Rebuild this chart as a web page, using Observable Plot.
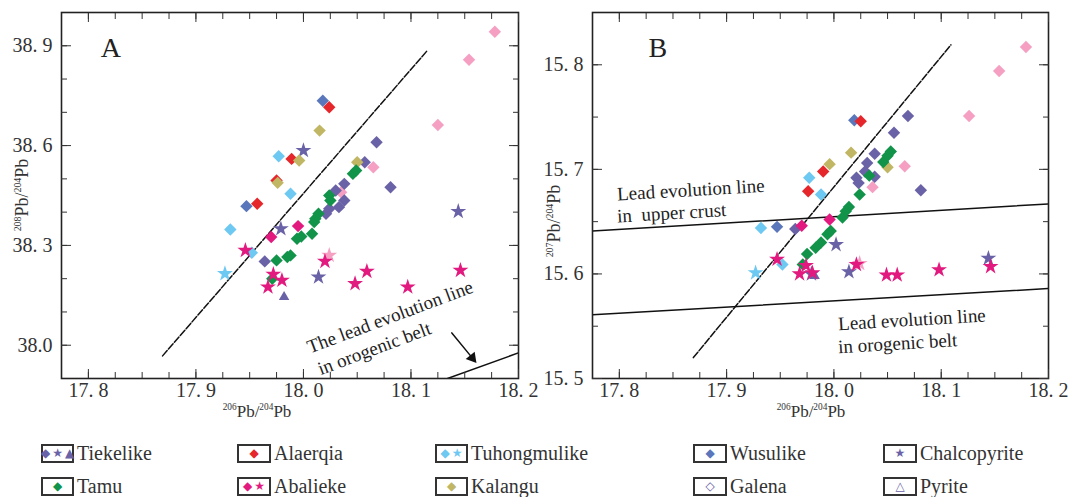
<!DOCTYPE html>
<html><head><meta charset="utf-8">
<script src="https://cdn.jsdelivr.net/npm/d3@7"></script>
<script src="https://cdn.jsdelivr.net/npm/@observablehq/plot@0.6"></script>
<style>
body{margin:0;background:#fff;font-family:"Liberation Serif",serif;}
#wrap{width:1073px;height:497px;position:relative;overflow:hidden;background:#fff}
#charts{display:flex;height:420px}
#legend{position:relative;height:77px;}
.item{position:absolute;display:flex;align-items:center;font-size:20px;line-height:20px;height:20px;color:#333;white-space:nowrap}
.box{border:2px solid #333;height:15px;display:flex;align-items:center;justify-content:center;margin-right:3px;font-family:"DejaVu Sans";font-size:12px;line-height:1}
.title{position:absolute;color:#333;white-space:nowrap;line-height:1;transform:translate(-50%,-50%)}
.title sup{font-size:0.55em;vertical-align:0;position:relative;top:-0.75em;line-height:0}
.title.y{font-size:18px;transform:translate(-50%,-50%) rotate(-90deg)}
.title.x{font-size:17px}
</style></head>
<body><div id="wrap"><div id="charts"></div><div id="legend"></div>
<div class="title y" style="left:22px;top:195px"><sup>208</sup>Pb/<sup>204</sup>Pb</div>
<div class="title y" style="left:554px;top:221px"><sup>207</sup>Pb/<sup>204</sup>Pb</div>
<div class="title x" style="left:257px;top:411px"><sup>206</sup>Pb/<sup>204</sup>Pb</div>
<div class="title x" style="left:811px;top:411px"><sup>206</sup>Pb/<sup>204</sup>Pb</div>
</div>
<script>
// ---------- data ----------
// Panel A: 206Pb/204Pb vs 208Pb/204Pb
const tiekelikeDiamondsA = [[18.068,38.61],[18.081,38.475],[18.057,38.55],[18.038,38.485],[18.030,38.465],[18.038,38.435],[18.033,38.415],[18.024,38.41],[18.021,38.395],[17.964,38.252]];
const tiekelikeStarsA = [[18.000,38.585],[17.979,38.35],[18.014,38.205],[18.144,38.402]];
const tiekelikeTrianglesA = [[17.982,38.145]];
const alaerqiaA = [[18.024,38.715],[17.989,38.56],[17.957,38.425],[17.975,38.495]];
const tuhongDiamondsA = [[17.977,38.568],[17.988,38.455],[17.932,38.348],[17.952,38.278]];
const tuhongStarsA = [[17.927,38.215]];
const wusulikeA = [[18.018,38.735],[17.947,38.418]];
const tamuA = [[17.971,38.20],[17.975,38.255],[17.985,38.265],[17.988,38.27],[17.994,38.32],[17.998,38.327],[18.008,38.335],[18.010,38.37],[18.011,38.38],[18.014,38.395],[18.025,38.435],[18.024,38.45],[18.046,38.515],[18.049,38.525]];
const abaliekeDiamondsA = [[17.995,38.358],[17.970,38.325]];
const abaliekeStarsA = [[17.946,38.285],[17.972,38.213],[17.980,38.195],[17.967,38.175],[18.020,38.252],[18.059,38.222],[18.048,38.185],[18.097,38.175],[18.146,38.225]];
const kalanguA = [[18.015,38.645],[17.996,38.555],[17.976,38.488],[18.050,38.55]];
const pinkDiamondsA = [[18.178,38.942],[18.154,38.858],[18.125,38.662],[18.065,38.535],[18.035,38.46]];
const pinkStarsA = [[18.024,38.27]];
const dashedLineA = [[17.869,37.968],[18.115,38.885]];
const orogenicLineA = [[18.134,37.90],[18.20,37.977]];

// Panel B: 206Pb/204Pb vs 207Pb/204Pb
const tiekelikeDiamondsB = [[18.069,15.751],[18.056,15.735],[18.038,15.715],[18.031,15.706],[18.029,15.698],[18.021,15.692],[18.038,15.693],[18.023,15.687],[18.081,15.680],[17.964,15.643]];
const tiekelikeStarsB = [[18.002,15.628],[17.979,15.600],[18.014,15.602],[18.144,15.615]];
const tiekelikeTrianglesB = [[17.982,15.598]];
const alaerqiaB = [[18.025,15.746],[17.990,15.698],[17.976,15.679]];
const tuhongDiamondsB = [[17.977,15.692],[17.988,15.676],[17.932,15.644],[17.952,15.609]];
const tuhongStarsB = [[17.927,15.601]];
const wusulikeB = [[18.019,15.747],[17.947,15.645]];
const tamuB = [[17.971,15.609],[17.975,15.619],[17.983,15.625],[17.988,15.630],[17.994,15.638],[17.997,15.641],[18.008,15.654],[18.011,15.660],[18.014,15.664],[18.024,15.676],[18.033,15.694],[18.046,15.707],[18.050,15.713],[18.053,15.717]];
const abaliekeDiamondsB = [[17.996,15.652],[17.970,15.646]];
const abaliekeStarsB = [[17.947,15.614],[17.974,15.608],[17.968,15.600],[17.980,15.601],[18.021,15.609],[18.049,15.599],[18.059,15.599],[18.098,15.604],[18.146,15.607]];
const kalanguB = [[18.016,15.716],[17.996,15.705],[18.050,15.702]];
const pinkDiamondsB = [[18.179,15.817],[18.154,15.794],[18.126,15.751],[18.066,15.703],[18.036,15.683]];
const pinkStarsB = [[18.024,15.610]];
const dashedLineB = [[17.869,15.52],[18.109,15.819]];
const upperCrustLineB = [[17.775,15.641],[18.20,15.667]];
const orogenicLineB = [[17.775,15.561],[18.20,15.586]];

// ticks
const xMajor = [17.8, 17.9, 18.0, 18.1, 18.2];
const xMinor = d3.range(0, 17).map(i => +(17.8 + i * 0.025).toFixed(3));
const yMajorA = [38.0, 38.3, 38.6, 38.9];
const yMinorA = d3.range(0, 10).map(i => +(38.0 + i * 0.1).toFixed(2));
const yMajorB = [15.5, 15.6, 15.7, 15.8];
const yMinorB = d3.range(0, 7).map(i => +(15.5 + i * 0.05).toFixed(2));

// legend
const legendNames = ["Tiekelike","Alaerqia","Tuhongmulike","Wusulike","Chalcopyrite","Tamu","Abalieke","Kalangu","Galena","Pyrite"];

// ---------- styles ----------
const C = {
  tiekelike: "#6a62a6", alaerqia: "#e5262a", tuhong: "#6dc8f2", wusulike: "#5a77bb",
  tamu: "#11944a", abalieke: "#e2197e", kalangu: "#c0b663", pink: "#f5a0c3"
};
const R = {diamond2: 5.6, star: 5, triangle2: 5};
const font = "Liberation Serif";
const fmt = d => d.toFixed(1).replace(".", ". ");

function seriesMarks(list) {
  return list.map(([data, color, symbol]) =>
    Plot.dot(data, {x: d => d[0], y: d => d[1], fill: color, symbol, r: R[symbol], stroke: "none"}));
}

function panel({width, marginLeft, marginRight, yDomain, yMajor, yMinor, yFmt, series, lines, texts, extra}) {
  const axisStyle = {fontSize: 20, fill: "#333", label: null};
  return Plot.plot({
    width, height: 420, marginLeft, marginRight, marginTop: 12, marginBottom: 42,
    style: {fontFamily: font, fontSize: "20px", background: "transparent", color: "#333", overflow: "visible"},
    x: {domain: [17.775, 18.2]},
    y: {domain: yDomain},
    marks: [
      ...lines.map(([data, dash]) => Plot.line(data, {x: d => d[0], y: d => d[1], stroke: "#111", strokeWidth: 1.5, strokeDasharray: dash, clip: true})),
      ...seriesMarks(series),
      ...(extra || []),
      ...texts.map(t => Plot.text([t], {x: d => d.x, y: d => d.y, text: d => d.text, rotate: t.rotate || 0,
        textAnchor: t.anchor || "start", fontSize: t.size || 19, fill: "#222", lineAnchor: "middle"})),
      Plot.frame({stroke: "#222", strokeWidth: 1.6}),
      Plot.axisX({anchor: "bottom", ticks: xMinor, tickSize: -6, tickFormat: () => "", label: null}),
      Plot.axisX({anchor: "bottom", ticks: xMajor, tickSize: -9, tickFormat: () => "", label: null}),
      Plot.axisX({anchor: "top", ticks: xMinor, tickSize: -6, tickFormat: () => "", label: null}),
      Plot.axisX({anchor: "top", ticks: xMajor, tickSize: -9, tickFormat: () => "", label: null}),
      Plot.axisY({anchor: "left", ticks: yMinor, tickSize: -6, tickFormat: () => "", label: null}),
      Plot.axisY({anchor: "left", ticks: yMajor, tickSize: -10, tickFormat: () => "", label: null}),
      Plot.axisY({anchor: "right", ticks: yMinor, tickSize: -6, tickFormat: () => "", label: null}),
      Plot.axisY({anchor: "right", ticks: yMajor, tickSize: -10, tickFormat: () => "", label: null}),
      Plot.axisX({anchor: "bottom", ticks: xMajor, tickSize: 0, tickPadding: 4, tickFormat: fmt, ...axisStyle}),
      Plot.axisY({anchor: "left", ticks: yMajor, tickSize: 0, tickPadding: 9, tickFormat: yFmt, ...axisStyle})
    ]
  });
}

const plotA = panel({
  width: 536, marginLeft: 61, marginRight: 18,
  yDomain: [37.9, 39.0], yMajor: yMajorA, yMinor: yMinorA,
  yFmt: d => d === 38 ? "38.0" : fmt(d),
  lines: [[dashedLineA, "7,2"], [orogenicLineA, null]],
  series: [
    [pinkDiamondsA, C.pink, "diamond2"], [pinkStarsA, C.pink, "star"],
    [wusulikeA, C.wusulike, "diamond2"],
    [tiekelikeDiamondsA, C.tiekelike, "diamond2"], [tiekelikeStarsA, C.tiekelike, "star"], [tiekelikeTrianglesA, C.tiekelike, "triangle2"],
    [alaerqiaA, C.alaerqia, "diamond2"],
    [tuhongDiamondsA, C.tuhong, "diamond2"], [tuhongStarsA, C.tuhong, "star"],
    [kalanguA, C.kalangu, "diamond2"],
    [tamuA, C.tamu, "diamond2"],
    [abaliekeDiamondsA, C.abalieke, "diamond2"], [abaliekeStarsA, C.abalieke, "star"]
  ],
  extra: [
    Plot.arrow([{x1: 18.138, y1: 38.037, x2: 18.157, y2: 37.962}], {x1: "x1", y1: "y1", x2: "x2", y2: "y2", stroke: "#111", strokeWidth: 1.5, headLength: 0}),
    Plot.dot([{x: 18.157, y: 37.962}], {x: "x", y: "y", symbol: "triangle2", r: 5.5, fill: "#111", rotate: 141})
  ],
  texts: [
    {x: 17.821, y: 38.894, text: "A", size: 28, anchor: "middle"},
    {x: 18.004, y: 37.992, text: "The lead evolution line", rotate: -20.5},
    {x: 18.014, y: 37.927, text: "in orogenic belt", rotate: -20.5}
  ]
});

const plotB = panel({
  width: 537, marginLeft: 56, marginRight: 25,
  yDomain: [15.5, 15.85], yMajor: yMajorB, yMinor: yMinorB,
  yFmt: fmt,
  lines: [[dashedLineB, "7,2"], [upperCrustLineB, null], [orogenicLineB, null]],
  series: [
    [pinkDiamondsB, C.pink, "diamond2"], [pinkStarsB, C.pink, "star"],
    [wusulikeB, C.wusulike, "diamond2"],
    [tiekelikeDiamondsB, C.tiekelike, "diamond2"], [tiekelikeStarsB, C.tiekelike, "star"], [tiekelikeTrianglesB, C.tiekelike, "triangle2"],
    [alaerqiaB, C.alaerqia, "diamond2"],
    [tuhongDiamondsB, C.tuhong, "diamond2"], [tuhongStarsB, C.tuhong, "star"],
    [kalanguB, C.kalangu, "diamond2"],
    [tamuB, C.tamu, "diamond2"],
    [abaliekeDiamondsB, C.abalieke, "diamond2"], [abaliekeStarsB, C.abalieke, "star"]
  ],
  texts: [
    {x: 17.836, y: 15.816, text: "B", size: 28, anchor: "middle"},
    {x: 17.798, y: 15.676, text: "Lead evolution line", rotate: -3.4},
    {x: 17.798, y: 15.655, text: "in  upper crust", rotate: -3.4},
    {x: 18.004, y: 15.552, text: "Lead evolution line", rotate: -3.4},
    {x: 18.004, y: 15.530, text: "in orogenic belt", rotate: -3.4}
  ]
});

document.getElementById("charts").append(plotA, plotB);

// ---------- legend ----------
const legendGlyphs = [
  [["◆", C.tiekelike], ["★", C.tiekelike], ["▲", C.tiekelike]],
  [["◆", C.alaerqia]],
  [["◆", C.tuhong], ["★", C.tuhong]],
  [["◆", C.wusulike]],
  [["★", C.tiekelike]],
  [["◆", C.tamu]],
  [["◆", C.abalieke], ["★", C.abalieke]],
  [["◆", C.kalangu]],
  [["◇", C.tiekelike]],
  [["△", C.tiekelike]]
];
const legendLeft = [41, 237, 435, 693, 883];
const legendTop = [23, 56];
const boxW = [33, 34, 33, 34, 34];
const legend = document.getElementById("legend");
legendNames.forEach((name, i) => {
  const col = i % 5, row = Math.floor(i / 5);
  const item = document.createElement("div");
  item.className = "item";
  item.style.left = legendLeft[col] + "px";
  item.style.top = legendTop[row] + "px";
  const box = document.createElement("div");
  box.className = "box";
  box.style.width = (boxW[col] - 4) + "px";
  legendGlyphs[i].forEach(([g, c]) => {
    const s = document.createElement("span");
    s.textContent = g; s.style.color = c; s.style.margin = "0 1px";
    box.append(s);
  });
  const label = document.createElement("span");
  label.textContent = name;
  item.append(box, label);
  legend.append(item);
});
</script></body></html>
